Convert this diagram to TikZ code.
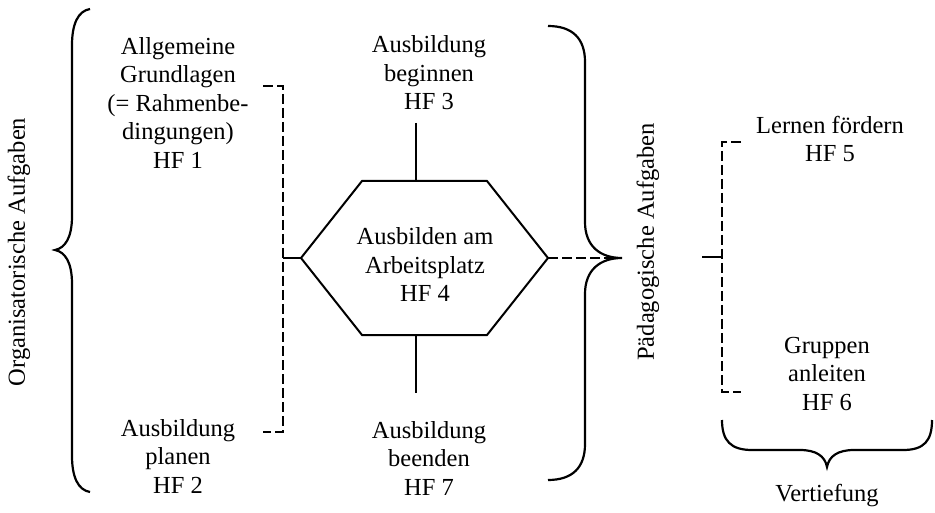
\documentclass[tikz,border=0pt]{standalone}
\usepackage{fontspec}
\setmainfont{Liberation Serif}
\begin{document}
\begin{tikzpicture}[x=1pt,y=-1pt,
  lbl/.style={align=center,inner sep=0pt,font=\fontsize{24.5}{28.5}\selectfont},
  ln/.style={line width=2pt,line join=miter},
  dln/.style={ln,dash pattern=on 10pt off 4pt},
  brace/.style={line width=2.2pt}]
\useasboundingbox (0,0) rectangle (935,513);

% side labels
\node[lbl,rotate=90] (orga) at (19,252) {Organisatorische Aufgaben};
\node[lbl,rotate=90] (paed) at (648,242) {Pädagogische Aufgaben};

% text blocks
\node[lbl] (hf1) at (178,103) {Allgemeine\\Grundlagen\\(= Rahmenbe-\\dingungen)\\HF 1};
\node[lbl] (hf2) at (178,456) {Ausbildung\\planen\\HF 2};
\node[lbl] (hf3) at (429,73) {Ausbildung\\beginnen\\HF 3};
\node[lbl] (hf4) at (425,265) {Ausbilden am\\Arbeitsplatz\\HF 4};
\node[lbl] (hf7) at (429,458) {Ausbildung\\beenden\\HF 7};
\node[lbl] (hf5) at (830,139) {Lernen fördern\\HF 5};
\node[lbl] (hf6) at (827,374) {Gruppen\\anleiten\\HF 6};
\node[lbl] (vert) at (827,496) {Vertiefung};

% hexagon corners
\coordinate (hl) at (301,258);
\coordinate (htl) at (362,181);
\coordinate (htr) at (487,181);
\coordinate (hr) at (548,258);
\coordinate (hbr) at (487,335);
\coordinate (hbl) at (362,335);
\draw[ln] (hl) -- (htl) -- (htr) -- (hr) -- (hbr) -- (hbl) -- cycle;

% stems above and below the hexagon
\coordinate (topstem) at (416,123);
\coordinate (topfoot) at (416,181);
\coordinate (botstem) at (416,393);
\coordinate (botfoot) at (416,335);
\draw[ln] (topstem) -- (topfoot);
\draw[ln] (botfoot) -- (botstem);

% left dashed bracket
\coordinate (lb1) at (263,86);
\coordinate (lb2) at (283,86);
\coordinate (lb3) at (283,432);
\coordinate (lb4) at (263,432);
\coordinate (lbm) at (283,258);
\draw[dln] (lb1) -- (lb2) -- (lb3) -- (lb4);
\draw[ln] (lbm) -- (hl);

% dashed link to the right brace
\coordinate (rtip) at (622,258);
\draw[dln] (hr) -- (rtip);

% left curly brace
\draw[brace] (90,9) .. controls (78,11) and (72,24) .. (72,45) -- (72,216)
  .. controls (72,238) and (65,248) .. (55,250)
  .. controls (65,252) and (72,262) .. (72,284) -- (72,456)
  .. controls (72,477) and (78,490) .. (90,492);

% right curly brace
\draw[brace] (548,26) .. controls (572,26) and (585,38) .. (585,62) -- (585,222)
  .. controls (585,246) and (600,258) .. (rtip)
  .. controls (600,258) and (585,270) .. (585,294) -- (585,444)
  .. controls (585,468) and (572,480) .. (548,480);

% right dashed bracket
\coordinate (rs) at (702,257);
\coordinate (rb1) at (741,142);
\coordinate (rb2) at (722,142);
\coordinate (rb3) at (722,392);
\coordinate (rb4) at (741,392);
\coordinate (rbm) at (722,257);
\draw[dln] (rb1) -- (rb2) -- (rb3) -- (rb4);
\draw[ln] (rs) -- (rbm);

% bottom curly brace
\draw[brace] (722,420) .. controls (722,441) and (731,450) .. (752,450) -- (800,450)
  .. controls (816,450) and (825,456) .. (827,467)
  .. controls (829,456) and (838,450) .. (854,450) -- (903,450)
  .. controls (924,450) and (932,441) .. (932,420);
\end{tikzpicture}
\end{document}
